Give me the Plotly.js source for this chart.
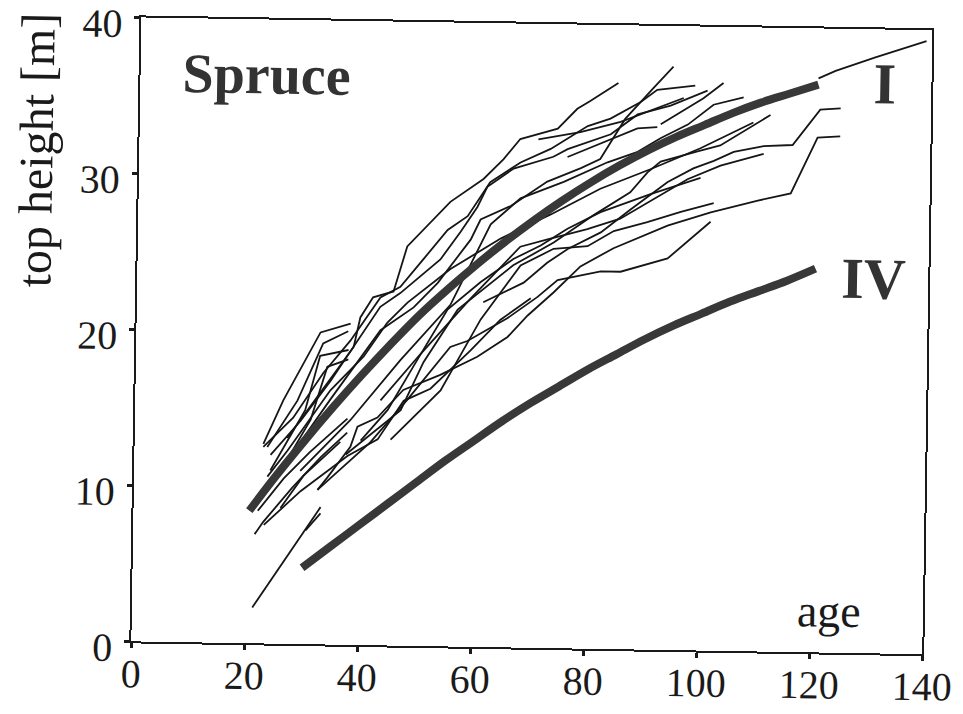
<!DOCTYPE html>
<html>
<head>
<meta charset="utf-8">
<script src="https://cdn.plot.ly/plotly-3.0.1.min.js"></script>
<style>
html,body{margin:0;padding:0;background:#fff;overflow:hidden}
#chart{width:963px;height:714px;transform:rotate(0.93deg);transform-origin:481.5px 357px}
</style>
</head>
<body>
<div id="chart"></div>
<script>
// Yield class curves (age in years, top height in m)
const ageI = [20.5,25,30,35,40,45,50,55,60,65,70,75,80,85,90,95,100,105,110,115,120];
const heightI = [8.5,10.7,13.0,15.2,17.3,19.3,21.2,22.9,24.5,26.0,27.4,28.7,29.9,31.0,32.0,32.9,33.7,34.5,35.2,35.8,36.4];
const ageIext = [120,123,130,139];
const heightIext = [36.8,37.3,38.2,39.3];
const ageIV = [30,35,40,45,50,55,60,65,70,75,80,85,90,95,100,105,110,115,120];
const heightIV = [4.9,6.3,7.7,9.1,10.5,11.9,13.2,14.5,15.7,16.8,17.9,18.9,19.9,20.8,21.6,22.4,23.1,23.8,24.6];

// Individual stand trajectories
const u1Age = [27.0,32.7,38.5,39.6,41.8,45.4,47.7,55.2,61.0,64.5,67.4,74.0,77.4,79.6,84.6];
const u1Height = [13.2,16.1,19.1,21.0,22.3,22.7,25.6,28.5,30.0,31.3,32.6,33.3,34.6,35.1,36.3];
const u2Age = [22.8,28.0,33.2,37.9,43.1,46.6,50.6,54.8,58.3,62.2,67.5,72.8,79.3,83.3,88.6,91.5,98.2];
const u2Height = [12.6,14.5,17.4,19.5,22.3,23.0,24.8,26.7,27.6,29.8,31.1,32.0,33.5,34.0,35.1,35.9,36.2];
const u3Age = [24.1,29.3,34.5,43.1,46.6,53.6,57.1,60.0,61.7,66.3,73.3,75.8,83.4,88.1,93.9,98.6,100.4];
const u3Height = [12.1,14.3,16.9,21.7,22.6,24.8,26.6,28.2,29.5,30.7,31.5,32.0,33.0,34.3,34.9,35.6,35.9];
const u4Age = [25.9,34.5,43.2,49.0,53.2,58.9,60.6,65.9,72.3,78.2,81.6,85.9,90.8,94.3];
const u4Height = [11.1,15.7,20.2,21.7,23.3,26.1,27.4,28.3,29.9,30.8,31.4,34.0,36.0,37.4];
const u5Age = [29.4,38.1,46.8,55.5,62.4,67.6,75.2,82.9,88.2,92.2,97.0,101.5,106.8];
const u5Height = [11.1,14.4,18.3,21.9,27.1,28.8,29.9,31.2,31.9,32.8,33.7,35.0,35.5];
const u6Age = [75.8,82.1,88.1,91.6];
const u6Height = [31.5,32.5,33.4,33.5];
const u7Age = [70.6,78.0,85.1,92.7,96.2];
const u7Height = [32.6,33.1,33.8,34.9,35.4];
const u8Age = [92.2,99.7,103.2];
const u8Height = [33.7,35.4,36.4];
const u9Age = [23.6,27.1,34.5,40.3,44.4,47.9,55.4,64.2,73.0,81.7,90.5,99.3,108.6];
const u9Height = [10.7,12.4,16.3,18.5,20.7,22.0,24.2,26.2,27.8,29.5,30.8,32.2,33.9];
const s1Age = [22.8,26.2,32.6,37.9];
const s1Height = [12.8,15.6,20.0,20.6];
const s2Age = [23.5,28.7,33.1,37.5];
const s2Height = [12.6,15.6,19.3,20.1];
const s3Age = [24.1,30.1,32.6,37.6];
const s3Height = [11.1,15.0,18.5,18.9];
const s4Age = [25.0,31.1,33.9,37.6];
const s4Height = [10.5,14.4,17.8,18.3];
const s5Age = [22.0,26.5,31.0,37.6];
const s5Height = [8.5,10.6,12.3,14.5];
const s6Age = [21.5,23.0,28.0,33.0,37.6];
const s6Height = [7.0,7.8,10.0,12.0,13.6];
const s7Age = [26.0,30.0,36.4];
const s7Height = [8.7,10.8,13.0];
const d1Age = [37.4,47.0,50.9,56.8,66.5,73.6,80.6,87.0,90.0,92.3,98.8,102.8,111.6];
const d1Height = [12.2,15.1,18.2,21.6,24.5,26.0,27.8,29.3,30.6,31.3,32.0,32.4,34.4];
const d2Age = [32.5,41.7,48.2,55.6,58.6,65.6,70.9,74.4,82.0,85.5,93.8,101.3];
const d2Height = [9.9,13.0,15.8,19.2,19.6,21.1,22.5,23.6,24.2,24.2,25.1,27.5];
const d3Age = [32.5,34.2,38.2,39.4,42.9,47.4,53.9,60.4,65.7,69.2,73.7,78.4,84.2,93.7,101.3,109.6,115.4,120.0,124.0];
const d3Height = [9.9,10.7,12.7,14.0,14.6,16.4,17.4,18.6,19.9,21.3,22.8,24.5,25.7,27.2,28.1,28.9,29.4,33.0,33.1];
const d4Age = [43.4,50.3,59.0,67.7,72.5,79.5,85.3,91.1,97.1,102.9,110.5];
const d4Height = [15.7,18.7,22.3,25.7,26.2,26.9,27.6,28.9,30.2,31.1,31.9];
const d5Age = [45.3,54.0,60.9,67.8,73.6,79.6,84.2,90.1,96.0,101.8];
const d5Height = [13.2,16.4,21.0,24.5,25.6,25.8,26.8,27.4,28.1,28.7];
const d6Age = [40.0,44.7,49.1,55.0,60.8,66.5,71.3,76.0,81.8,90.6,99.4];
const d6Height = [13.1,15.1,17.9,21.6,23.4,24.9,25.8,26.9,28.0,29.2,30.3];
const d7Age = [23.1,29.5,37.7,43.0,47.5,52.2,59.2,64.4,69.7];
const d7Height = [7.6,9.8,12.1,13.2,15.7,16.5,19.0,21.0,22.4];
const r1Age = [61.3,68.4,72.5,76.1,81.9,87.1,93.6,98.1,101.7,105.2,110.5,115.6,120.4,124.0];
const r1Height = [22.1,23.4,24.7,25.6,26.7,28.2,30.0,30.9,31.4,32.0,32.4,32.5,34.8,34.9];
const e1Age = [21.3,33.1];
const e1Height = [2.3,8.8];
const e2Age = [30.5,33.1];
const e2Height = [7.3,8.4];

const xTicks = [0,20,40,60,80,100,120,140];
const yTicks = [0,10,20,30,40];

const stands = [
  [u1Age,u1Height],[u2Age,u2Height],[u3Age,u3Height],[u4Age,u4Height],[u5Age,u5Height],
  [u6Age,u6Height],[u7Age,u7Height],[u8Age,u8Height],[u9Age,u9Height],
  [s1Age,s1Height],[s2Age,s2Height],[s3Age,s3Height],[s4Age,s4Height],[s5Age,s5Height],
  [s6Age,s6Height],[s7Age,s7Height],
  [d1Age,d1Height],[d2Age,d2Height],[d3Age,d3Height],[d4Age,d4Height],[d5Age,d5Height],
  [d6Age,d6Height],[d7Age,d7Height],[r1Age,r1Height],
  [e1Age,e1Height],[e2Age,e2Height],[ageIext,heightIext]
];

const thin = {color:'#161616', width:1.8};
const traces = stands.map(s => ({x:s[0], y:s[1], type:'scatter', mode:'lines', line:thin, hoverinfo:'skip'}));
traces.push({x:ageI, y:heightI, type:'scatter', mode:'lines', line:{color:'#383838', width:8, shape:'spline'}});
traces.push({x:ageIV, y:heightIV, type:'scatter', mode:'lines', line:{color:'#383838', width:8, shape:'spline'}});

const serif = 'Liberation Serif, Times New Roman, serif';
const axisCommon = {
  showline:true, mirror:true, linecolor:'#1a1a1a', linewidth:2,
  ticks:'outside', ticklen:5, tickwidth:3, tickcolor:'#1a1a1a',
  showgrid:false, zeroline:false, automargin:false,
  tickfont:{family:serif, size:40, color:'#1a1a1a'}
};

const layout = {
  width:963, height:714,
  margin:{l:136, r:36, t:23, b:67},
  paper_bgcolor:'#ffffff', plot_bgcolor:'#ffffff',
  showlegend:false,
  xaxis: Object.assign({}, axisCommon, {range:[0,140], tickvals:xTicks, ticktext:xTicks.map(String), ticklabelstandoff:-9}),
  yaxis: Object.assign({}, axisCommon, {range:[0,40], tickvals:yTicks, ticktext:yTicks.map(String), ticklabelstandoff:4, ticklabelshift:6}),
  annotations:[
    {text:'Spruce', x:7.1, y:36.5, xref:'x', yref:'y', xanchor:'left', yanchor:'middle', showarrow:false,
     font:{family:serif, size:56, color:'#333333', weight:'bold'}},
    {text:'<b>I</b>', x:131.7, y:36.5, xref:'x', yref:'y', xanchor:'center', yanchor:'middle', showarrow:false,
     font:{family:serif, size:58, color:'#333333'}},
    {text:'<b>IV</b>', x:130.3, y:24.0, xref:'x', yref:'y', xanchor:'center', yanchor:'middle', showarrow:false,
     font:{family:serif, size:58, color:'#333333'}},
    {text:'age', x:123.3, y:2.65, xref:'x', yref:'y', xanchor:'center', yanchor:'middle', showarrow:false,
     font:{family:serif, size:46, color:'#1a1a1a'}},
    {text:'top height [m]', x:-0.131, y:0.785, xref:'paper', yref:'paper', xanchor:'center', yanchor:'middle',
     textangle:-90, showarrow:false, font:{family:serif, size:48, color:'#1a1a1a'}}
  ]
};

Plotly.newPlot('chart', traces, layout, {staticPlot:true, displayModeBar:false});
</script>
</body>
</html>
